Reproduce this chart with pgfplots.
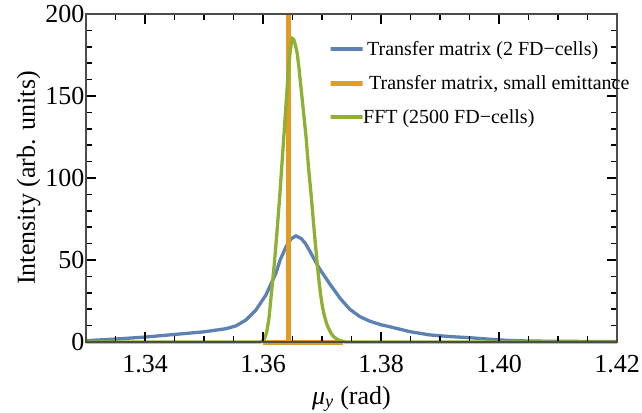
\documentclass[border=0pt]{standalone}
\usepackage{fontspec}
\setmainfont{Liberation Serif}
\usepackage{pgfplots}
\pgfplotsset{compat=1.18}
\definecolor{mblue}{rgb}{0.368417,0.506779,0.709798}
\definecolor{morange}{rgb}{0.880722,0.611041,0.142051}
\definecolor{mgreen}{rgb}{0.560181,0.691569,0.194885}
\begin{document}
\begin{tikzpicture}
\begin{axis}[
  scale only axis, width=531pt, height=328pt,
  xmin=1.33, xmax=1.42, ymin=0, ymax=200,
  clip=false, axis on top,
  xtick={1.34,1.36,1.38,1.40,1.42},
  xticklabels={1.34,1.36,1.38,1.40,1.42},
  minor xtick={1.330,1.335,1.345,1.350,1.355,1.365,1.370,1.375,1.385,1.390,1.395,1.405,1.410,1.415},
  ytick={0,50,100,150,200},
  minor ytick={10,20,30,40,60,70,80,90,110,120,130,140,160,170,180,190},
  tick align=inside,
  major tick length=10pt, minor tick length=6pt,
  axis line style={draw=black!70, line width=2pt},
  tick style={draw=black, line width=1.5pt},
  /pgf/number format/assume math mode=true,
  tick label style={font=\fontsize{26}{26}\selectfont},
  xticklabel style={yshift=-10pt},
  yticklabel style={xshift=2pt},
  label style={font=\fontsize{26}{26}\selectfont},
  xlabel={\textit{μ}\textsubscript{\textit{y}} (rad)},
  ylabel={Intensity (arb. units)},
  xlabel style={yshift=-6pt},
  ylabel style={yshift=-2pt},
  legend style={at={(0.45,0.93)}, anchor=north west, draw=none, fill=none,
    font=\fontsize{20}{20}\selectfont, row sep=14.5pt},
  legend cell align=left,
  legend image code/.code={\draw[#1, line width=3.2pt] (0pt,0pt) -- (25pt,0pt);
    \path (0pt,0pt) rectangle (32pt,0pt);},
]
\addplot[mblue, line width=3.3pt] coordinates {
(1.330,0.8) (1.335,1.8) (1.340,3) (1.345,4.6) (1.350,6.2) (1.3537,8.1)
(1.3554,9.8) (1.3571,13.4) (1.3588,19.5) (1.3605,28.7) (1.3613,35)
(1.3622,42) (1.3629,50) (1.3639,58) (1.3648,63) (1.3656,64.7)
(1.3665,63) (1.3672,60) (1.3680,55) (1.3689,49) (1.3697,44)
(1.3714,35) (1.3731,26.5) (1.3747,20) (1.3764,15.5) (1.3781,12.7)
(1.3800,10.5) (1.3815,9.3) (1.3849,6.3) (1.3883,4.3) (1.3917,3.3)
(1.3951,2.6) (1.3980,1.8) (1.4013,1.0) (1.4050,0.6) (1.410,0.4) (1.420,0.3)
};
\addlegendentry{Transfer matrix (2 FD−cells)}
\addplot[morange, line width=5pt] coordinates {
(1.3600,0) (1.3643,0) (1.3643,200.5) (1.3643,0) (1.3735,0)
};
\addlegendentry{\kern2pt Transfer matrix, small emittance}
\addplot[mgreen, line width=3.3pt] coordinates {
(1.330,0) (1.3595,0) (1.3600,0.8) (1.3603,2.5) (1.3606,5.5) (1.3610,14)
(1.3613,25) (1.3616,36) (1.3619,47) (1.3623,64) (1.3628,87) (1.3632,108)
(1.3636,129) (1.3640,150) (1.3643,166) (1.3646,177) (1.3648,182)
(1.3650,185) (1.3652,184.5) (1.3655,181) (1.3658,176) (1.3661,167)
(1.3665,153) (1.3669,139) (1.3673,125) (1.3677,107) (1.3682,88)
(1.3687,67) (1.3692,47) (1.3695,37) (1.3698,28) (1.3701,21) (1.3704,16)
(1.3708,11) (1.3711,8.5) (1.3715,5.5) (1.3719,3.5) (1.3725,1.8)
(1.3730,0.9) (1.3736,0.3) (1.3740,0) (1.420,0)
};
\addlegendentry{\kern-4pt FFT (2500 FD−cells)}
\end{axis}
\pgfresetboundingbox
\path (current axis.south west) ++(-86pt,-70pt) rectangle ++(642pt,412pt);
\end{tikzpicture}
\end{document}
